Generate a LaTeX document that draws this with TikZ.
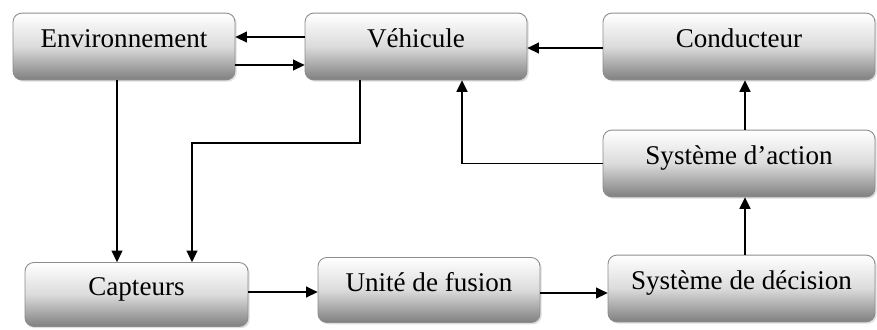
\documentclass[tikz,border=0pt]{standalone}
\usepackage{fontspec}
\setmainfont{Liberation Serif}
\usepackage{tikz}
\usetikzlibrary{positioning,calc,arrows.meta,shadows}
\tikzset{
  figfont/.style={font=\fontsize{15.4}{18}\selectfont},
  figbox/.style={draw=black!45, line width=0.5pt, rounded corners=5pt, align=center,
    inner xsep=2pt, inner ysep=2.7pt, text height=16.6pt, text depth=16pt,
    minimum width=4.44cm,
    top color=white, bottom color=black!50, middle color=black!14,
    drop shadow={shadow xshift=1pt, shadow yshift=-1pt, opacity=0.25}},
  figboxwide/.style={figbox, minimum width=5.44cm},
  figarrow/.style={-{Triangle[length=2.3mm, width=2.2mm]}, line width=0.75pt},
}
\begin{document}
\begin{tikzpicture}[figfont, x=0.02cm, y=-0.02cm]
\useasboundingbox (0,0) rectangle (877,329);
		% Top row
			\node[figbox] (env) at (124,46.5) {Environnement};
			\node[figbox] (veh) at (416,46.5) {Véhicule};
			\node[figboxwide] (cond) at (739,46.5) {Conducteur};

		% Right column
			\node[figboxwide] (action) at (739,163.5) {Système d’action};
			\node[figbox, minimum width=5.34cm] (decision) at (741.5,288.5) {Système de décision};

		% Bottom row
			\node[figbox, text depth=15pt, text height=16.6pt] (fusion) at (429,290) {Unité de fusion};
			\node[figbox, minimum width=4.46cm, text depth=15pt, text height=16pt] (capteurs) at (136.5,294.5) {Capteurs};

		% Horizontal arrows
			\draw[figarrow] (veh.west |- 0,37) -- (env.east |- 0,37);
			\draw[figarrow] (env.east |- 0,65) -- (veh.west |- 0,65);
			\draw[figarrow] (cond.west |- 0,48) -- (veh.east |- 0,48);
			\draw[figarrow] (capteurs.east |- 0,292) -- (fusion.west |- 0,292);
			\draw[figarrow] (fusion.east |- 0,293) -- (decision.west |- 0,293);

		% Vertical arrows
			\draw[figarrow] (env.south -| 117,0) -- (capteurs.north -| 117,0);
			\draw[figarrow] (veh.south -| 360,0) |- (192,143) -- (capteurs.north -| 192,0);
			\draw[figarrow] (action.west) -| (veh.south -| 462,0);
			\draw[figarrow] (action.north -| 745,0) -- (cond.south -| 745,0);
			\draw[figarrow] (decision.north -| 745,0) -- (action.south -| 745,0);
\end{tikzpicture}
\end{document}
